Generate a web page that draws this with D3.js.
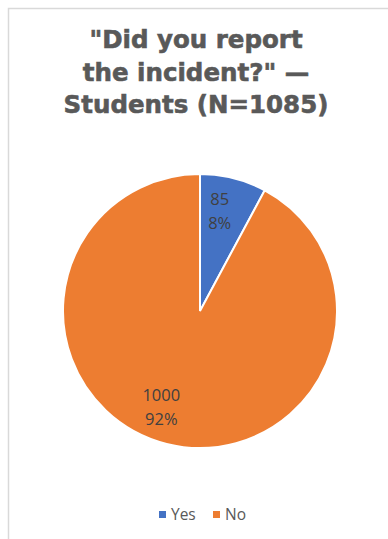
<!DOCTYPE html>
<html><head><meta charset="utf-8">
<script src="https://cdn.jsdelivr.net/npm/d3@7"></script>
<style>body{margin:0;background:#fff}svg{display:block}</style>
</head><body>
<script>
const categories = ["Yes", "No"];
const values = [85, 1000];
const percents = ["8%", "92%"];
const titleLines = ["\"Did you report", "the incident?\" \u2014", "Students (N=1085)"];
const colors = ["#4472C4", "#ED7D31"];

const W = 388, H = 539;
const svg = d3.select("body").append("svg").attr("width", W).attr("height", H);
svg.append("rect").attr("x", 8.5).attr("y", 8.5).attr("width", W + 10).attr("height", H + 10)
  .attr("fill", "#fff").attr("stroke", "#d9d9d9").attr("stroke-width", 1.5);

const t = svg.append("text").attr("text-anchor", "middle")
  .attr("font-family", "DejaVu Sans").attr("font-weight", "bold")
  .attr("font-size", 24.5).attr("fill", "#595959")
  .attr("stroke", "#595959").attr("stroke-width", 0.6);
titleLines.forEach((l, i) => t.append("tspan").attr("x", 196).attr("y", 48 + i * 32.5).text(l));

const cx = 200, cy = 311, R = 137;
const pie = d3.pie().sort(null).value(d => d);
const arcs = pie(values);
const arc = d3.arc().innerRadius(0).outerRadius(R);
const g = svg.append("g").attr("transform", `translate(${cx},${cy})`);
g.selectAll("path").data(arcs).join("path").attr("d", arc)
  .attr("fill", (d, i) => colors[i]).attr("stroke", "#fff").attr("stroke-width", 2);

const labelArc = d3.arc().innerRadius(R * 0.74).outerRadius(R * 0.74);
const lg = g.selectAll("text.lbl").data(arcs).join("text").attr("class", "lbl")
  .attr("text-anchor", "middle").attr("font-family", "Open Sans").attr("font-size", 16.5)
  .attr("fill", "#404040")
  .attr("transform", d => { const c = labelArc.centroid(d); return `translate(${c[0] - (d.index ? 14 : 5)},${c[1]})`; });
lg.append("tspan").attr("x", 0).attr("y", -8).text(d => d.data);
lg.append("tspan").attr("x", 0).attr("y", 16).text((d, i) => percents[i]);

const legX = [159, 213];
const leg = svg.append("g");
categories.forEach((c, i) => {
  leg.append("rect").attr("x", legX[i]).attr("y", 511).attr("width", 7).attr("height", 7).attr("fill", colors[i]);
  leg.append("text").attr("x", legX[i] + 12).attr("y", 520).attr("font-family", "Open Sans")
    .attr("font-size", 15.5).attr("fill", "#595959").text(c);
});
</script>
</body></html>
